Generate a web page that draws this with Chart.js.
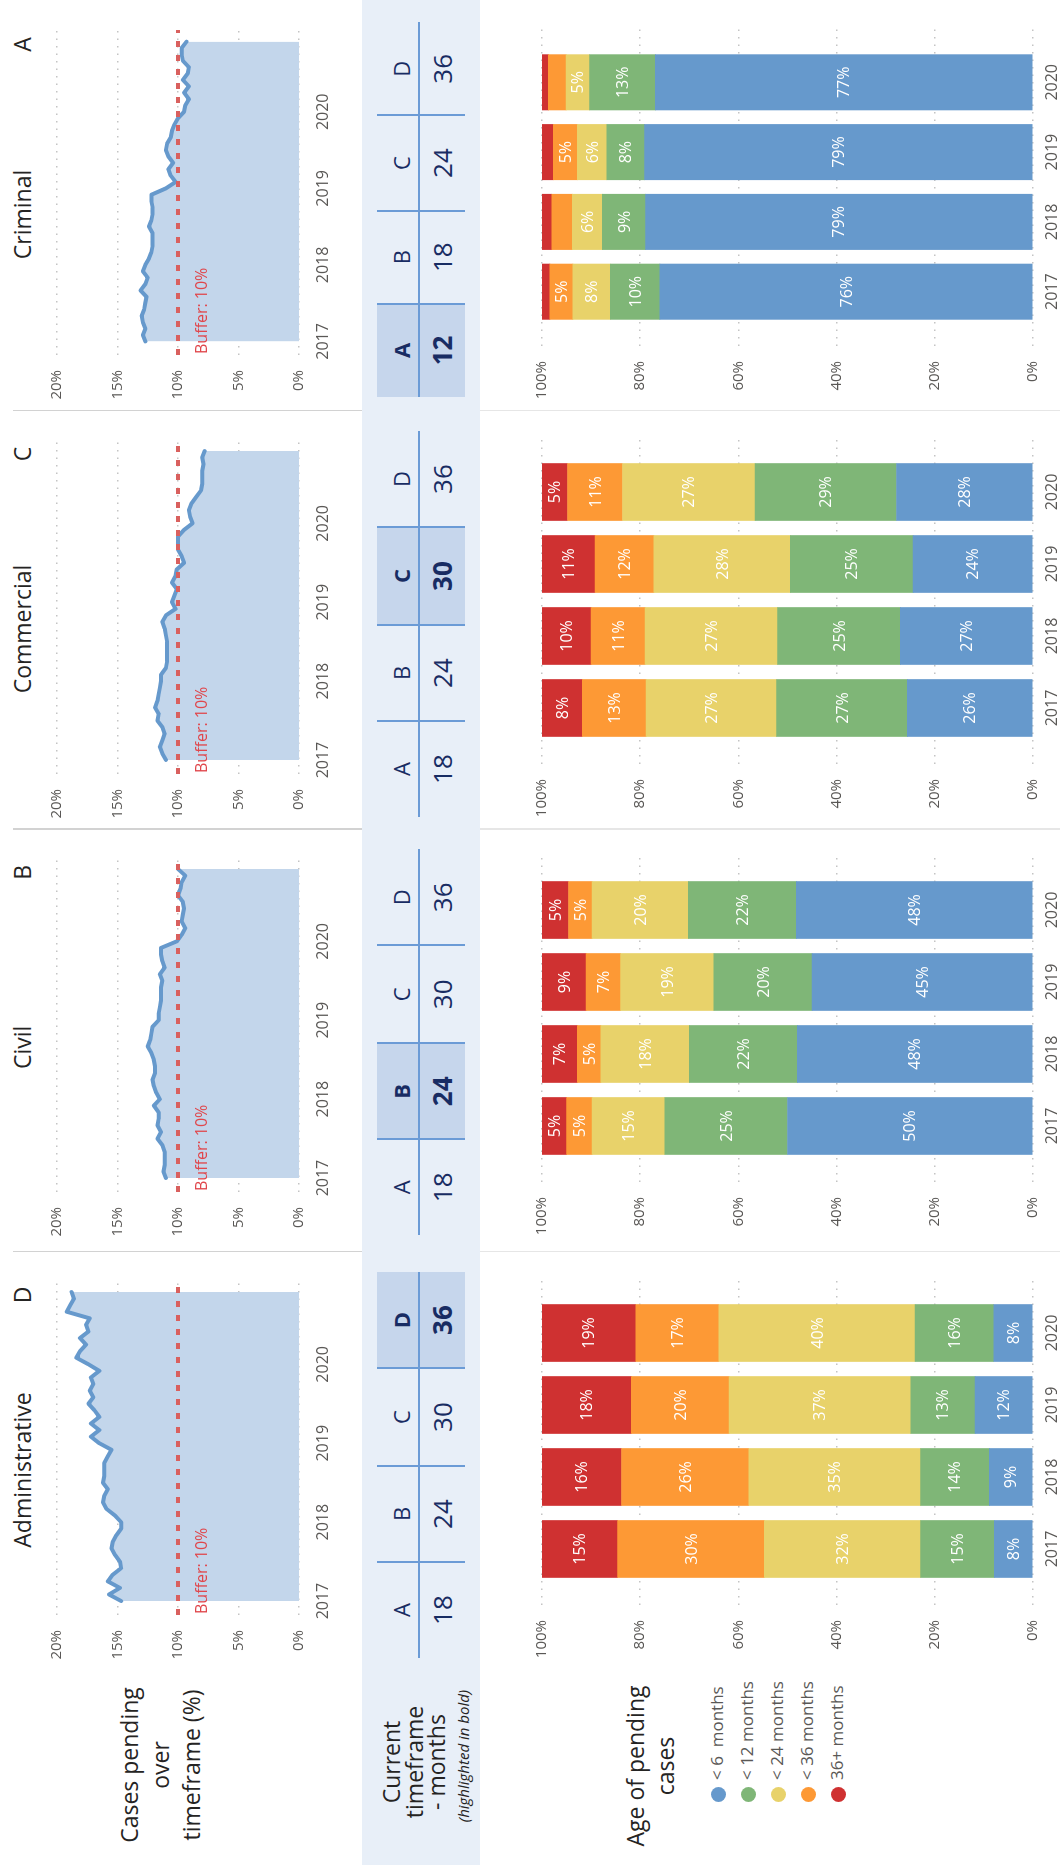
<!DOCTYPE html>
<html>
<head>
<meta charset="utf-8">
<title>Pending cases by court</title>
<script src="https://cdn.jsdelivr.net/npm/chart.js@4.4.1/dist/chart.umd.min.js"></script>
<style>
  html, body { margin: 0; padding: 0; background: #ffffff; }
  body { width: 1060px; height: 1870px; overflow: hidden; position: relative;
         font-family: "Open Sans", "Noto Sans", sans-serif; }
  /* the dashboard is laid out landscape and turned a quarter turn */
  #board { position: absolute; left: 0; top: 0; width: 1870px; height: 1060px;
           transform-origin: 0 0; transform: translate(0px, 1870px) rotate(-90deg);
           background: #ffffff; }
</style>
</head>
<body>
<div id="board"></div>
<script>
// ---------------- data ----------------
const courts = ['Administrative', 'Civil', 'Commercial', 'Criminal'];
const timeframeCodes = ['A', 'B', 'C', 'D'];
const monthsAdministrative = [18, 24, 30, 36];
const monthsCivil = [18, 24, 30, 36];
const monthsCommercial = [18, 24, 30, 36];
const monthsCriminal = [12, 18, 24, 36];
const currentTimeframe = ['D', 'B', 'C', 'A'];
const bufferPct = 10;

const yearTicks = [2017, 2018, 2019, 2020];
const years = ['2017', '2018', '2019', '2020'];

// share of cases pending over the timeframe, monthly Jan 2017 - Dec 2020 (%)
const pendingAdministrative = [14.7, 15.7, 14.8, 15.8, 15.4, 14.7, 14.8, 15.2, 15.5, 15.4,
  15.1, 14.7, 14.7, 15.2, 15.9, 16.2, 16.1, 15.8, 16.2, 16.1,
  16.1, 16.1, 15.8, 15.5, 16.5, 17.2, 16.5, 17.2, 16.5, 16.9,
  17.4, 17.0, 17.3, 17.0, 17.2, 16.5, 17.4, 18.4, 18.1, 17.6,
  18.1, 17.4, 17.6, 17.3, 19.2, 18.9, 18.6, 18.8];
const pendingCivil = [11.0, 11.2, 11.1, 11.1, 11.1, 11.3, 11.7, 11.4, 11.7, 11.6,
  11.6, 12.0, 11.5, 11.8, 12.0, 12.1, 11.9, 11.9, 12.0, 12.2,
  12.5, 12.3, 12.2, 12.1, 11.6, 11.6, 11.5, 11.4, 11.4, 11.4,
  11.3, 11.5, 11.1, 11.3, 11.4, 11.4, 10.1, 9.7, 9.4, 9.7,
  9.6, 9.5, 9.6, 10.0, 9.8, 9.7, 9.4, 10.0];
const pendingCommercial = [11.0, 11.3, 11.5, 11.3, 11.1, 11.3, 11.7, 11.6, 11.9, 11.7,
  11.6, 11.5, 11.4, 11.4, 11.0, 10.9, 10.9, 10.9, 10.9, 11.0,
  11.1, 11.3, 11.0, 10.2, 10.5, 10.3, 10.1, 10.5, 10.2, 10.1,
  9.5, 9.7, 10.0, 10.0, 10.0, 9.5, 8.8, 9.0, 9.1, 8.9,
  8.5, 8.1, 8.0, 8.0, 8.0, 7.9, 8.0, 7.8];
const pendingCriminal = [12.7, 12.9, 12.7, 12.9, 13.0, 12.8, 12.7, 12.6, 13.1, 12.7,
  12.5, 12.9, 12.7, 12.4, 12.2, 12.1, 12.1, 12.1, 12.4, 12.2,
  12.1, 12.1, 12.2, 12.2, 11.0, 10.2, 10.6, 10.8, 10.4, 10.8,
  11.0, 10.9, 10.6, 10.5, 10.3, 10.0, 9.5, 9.4, 9.1, 9.5,
  9.1, 9.6, 9.2, 9.1, 9.6, 9.7, 9.7, 9.3];

// age of pending cases by year (%), rows: <6, <12, <24, <36, 36+ months
const ageBands = ['< 6  months', '< 12 months', '< 24 months', '< 36 months', '36+ months'];
const ageColors = ['#6699cc', '#7fb677', '#e8d26a', '#fd9935', '#cf3131'];
const ageAdministrative = [
  [7.9, 8.9, 11.8, 8.0],
  [15.0, 14.0, 13.1, 16.0],
  [31.8, 35.0, 37.0, 40.0],
  [29.9, 25.9, 19.9, 16.9],
  [15.4, 16.2, 18.2, 19.1]];
const ageCivil = [
  [50.0, 48.0, 45.0, 48.2],
  [25.0, 22.0, 20.0, 22.0],
  [14.8, 18.0, 19.0, 19.6],
  [5.2, 4.8, 7.0, 4.8],
  [5.0, 7.2, 9.0, 5.4]];
const ageCommercial = [
  [25.6, 27.0, 24.4, 27.8],
  [26.6, 25.0, 25.0, 28.8],
  [26.6, 27.0, 27.8, 27.0],
  [13.0, 11.0, 12.0, 11.2],
  [8.2, 10.0, 10.8, 5.2]];
const ageCriminal = [
  [76.0, 78.9, 79.1, 76.9],
  [10.1, 8.8, 7.7, 13.4],
  [7.6, 6.1, 6.0, 4.8],
  [4.7, 4.2, 4.9, 3.6],
  [1.6, 2.0, 2.3, 1.3]];

const pendingByCourt = [pendingAdministrative, pendingCivil, pendingCommercial, pendingCriminal];
const monthsByCourt = [monthsAdministrative, monthsCivil, monthsCommercial, monthsCriminal];
const ageByCourt = [ageAdministrative, ageCivil, ageCommercial, ageCriminal];

// ---------------- layout helpers ----------------
const FONT = '"Open Sans", "Noto Sans", sans-serif';
Chart.defaults.font.family = FONT;
const board = document.getElementById('board');

// each court occupies one column; positions are given for the first column
const anchor = [269, 691.7, 1110, 1528.3];
const sx = [1, 1, 1, 0.971];
function px(p, x) { return anchor[p] + (x - 269) * sx[p]; }

function add(tag, css, text) {
  const el = document.createElement(tag);
  el.style.cssText = 'position:absolute;' + css;
  if (text !== undefined) el.textContent = text;
  board.appendChild(el);
  return el;
}
function makeCanvas(left, top, w, h) {
  const c = document.createElement('canvas');
  c.width = w; c.height = h;
  c.style.cssText = `position:absolute;left:${left}px;top:${top}px;width:${w}px;height:${h}px;`;
  board.appendChild(c);
  return c;
}

// ---------------- plugins ----------------
const bufferLabelPlugin = {
  id: 'bufferLabel',
  afterDatasetsDraw(chart) {
    const { ctx, chartArea, scales } = chart;
    ctx.save();
    ctx.font = `16px ${FONT}`;
    ctx.fillStyle = '#e0474c';
    ctx.textBaseline = 'alphabetic';
    ctx.fillText(`Buffer: ${bufferPct}%`, chartArea.left + 1, scales.y.getPixelForValue(bufferPct) + 29);
    ctx.restore();
  }
};

const segmentLabelPlugin = {
  id: 'segmentLabels',
  afterDatasetsDraw(chart) {
    const ctx = chart.ctx;
    ctx.save();
    ctx.font = `16px ${FONT}`;
    ctx.fillStyle = '#ffffff';
    ctx.textAlign = 'center';
    ctx.textBaseline = 'middle';
    chart.data.datasets.forEach((ds, k) => {
      chart.getDatasetMeta(k).data.forEach((bar, i) => {
        const v = ds.data[i].y;
        if (v < 4.5) return;
        ctx.fillText(Math.round(v) + '%', bar.x, (bar.y + bar.base) / 2 + 1);
      });
    });
    ctx.restore();
  }
};

const dotted = { color: '#c4c4c4', lineWidth: 1.5, drawTicks: false };
const tickColor = '#5a5856';

// ---------------- line charts: cases pending over timeframe ----------------
const X_MIN = 2016.823, X_MAX = 2021.069;
function lineChart(p) {
  const values = pendingByCourt[p];
  const plotL = px(p, 255), plotR = px(p, 590);
  const plotT = 53, plotB = 299;
  const padL = 20, yW = 55, padR = 12, padT = 20, xH = 32, padB = 4;
  const w = Math.round(plotR - plotL);
  const canvas = makeCanvas(plotL - padL - yW, plotT - padT, w + padL + yW + padR, (plotB - plotT) + padT + xH + padB);
  new Chart(canvas, {
    type: 'line',
    data: {
      datasets: [
        { label: 'Buffer', data: [{ x: X_MIN, y: bufferPct }, { x: X_MAX, y: bufferPct }],
          borderColor: '#d9605e', borderWidth: 4, borderDash: [6, 8], pointRadius: 0, fill: false },
        { label: 'Cases pending over timeframe', data: values.map((v, i) => ({ x: 2017 + i / 12, y: v })),
          borderColor: '#6699cc', borderWidth: 4, backgroundColor: '#c3d6eb', fill: 'origin',
          pointRadius: 0, tension: 0, borderJoinStyle: 'round', borderCapStyle: 'round' }
      ]
    },
    options: {
      responsive: false, animation: false, devicePixelRatio: 1,
      layout: { padding: { left: padL, right: padR, top: padT, bottom: padB } },
      plugins: { legend: { display: false }, tooltip: { enabled: false } },
      scales: {
        x: {
          type: 'linear', min: X_MIN, max: X_MAX,
          afterBuildTicks: s => { s.ticks = yearTicks.map(v => ({ value: v })); },
          afterFit: s => { s.height = xH; },
          grid: { display: false }, border: { display: false },
          ticks: { padding: 7, color: tickColor, font: { size: 16 }, maxRotation: 0, autoSkip: false,
                   callback: v => String(v) }
        },
        y: {
          min: 0, max: 20,
          afterFit: s => { s.width = yW; },
          grid: dotted, border: { display: false, dash: [1.5, 6] },
          ticks: { stepSize: 5, padding: 15, color: tickColor, font: { size: 15 }, callback: v => v + '%' }
        }
      }
    },
    plugins: [bufferLabelPlugin]
  });
}

// ---------------- bar charts: age of pending cases ----------------
function barChart(p) {
  const series = ageByCourt[p];
  const plotL = px(p, 265), plotR = px(p, 593);
  const plotT = 532, plotB = 1033;
  const padL = 10, yW = 60, padR = 10, padT = 14, xH = 26, padB = 4;
  const w = Math.round(plotR - plotL);
  const canvas = makeCanvas(plotL - padL - yW, plotT - padT, w + padL + yW + padR, (plotB - plotT) + padT + xH + padB);
  new Chart(canvas, {
    type: 'bar',
    data: {
      datasets: ageBands.map((name, k) => ({
        label: name,
        data: series[k].map((v, i) => ({ x: i, y: v })),
        backgroundColor: ageColors[k],
        borderWidth: 0,
        barThickness: 57 * sx[p]
      }))
    },
    options: {
      responsive: false, animation: false, devicePixelRatio: 1,
      layout: { padding: { left: padL, right: padR, top: padT, bottom: padB } },
      plugins: { legend: { display: false }, tooltip: { enabled: false } },
      scales: {
        x: {
          type: 'linear', stacked: true, min: -0.778, max: 3.778, offset: false,
          afterBuildTicks: s => { s.ticks = years.map((_, i) => ({ value: i })); },
          afterFit: s => { s.height = xH; },
          grid: { display: false }, border: { display: false },
          ticks: { padding: 2, color: tickColor, font: { size: 16 }, maxRotation: 0, autoSkip: false,
                   callback: v => years[v] }
        },
        y: {
          stacked: true, min: 0, max: 100,
          afterFit: s => { s.width = yW; },
          grid: dotted, border: { display: false, dash: [1.5, 6] },
          ticks: { stepSize: 20, padding: 15, color: tickColor, font: { size: 15 }, callback: v => v + '%' }
        }
      }
    },
    plugins: [segmentLabelPlugin]
  });
}

// ---------------- static frame ----------------
// column separators: stronger through the trend row, fainter through the bar row
for (let p = 0; p < 3; p++) {
  add('div', `left:${px(p, 618) - 0.5}px;top:13px;width:1.5px;height:349px;background:#d2d2d2;`);
  add('div', `left:${px(p, 618) - 0.5}px;top:480px;width:1.5px;height:580px;background:#e6e6e6;`);
}
// timeframe band
add('div', 'left:5px;top:362px;width:1865px;height:118px;background:#e8eff8;');

// row labels
add('div', `left:5px;top:114px;width:200px;font-size:23px;line-height:31px;text-align:center;color:#252423;white-space:pre;`,
    'Cases pending\nover\ntimeframe (%)');
add('div', `left:8px;top:380px;width:200px;font-size:23px;line-height:22.5px;text-align:center;color:#252423;white-space:pre;`,
    'Current\ntimeframe\n- months');
add('div', `left:14px;top:454px;width:200px;font-size:15px;line-height:18px;font-style:italic;text-align:center;color:#252423;white-space:pre;`,
    '(highlighted in bold)');
add('div', `left:4px;top:620px;width:200px;font-size:23px;line-height:30px;text-align:center;color:#252423;white-space:pre;`,
    'Age of pending\ncases');

// legend
ageBands.forEach((name, k) => {
  const cy = 718 + 30 * k;
  add('div', `left:${75 - 7.5}px;top:${cy - 7.5}px;width:15px;height:15px;border-radius:50%;background:${ageColors[k]};`);
  add('div', `left:90px;top:${cy - 13}px;font-size:17px;line-height:24px;color:${tickColor};white-space:pre;`, name);
});

// per-court columns
courts.forEach((court, p) => {
  add('div', `left:${px(p, 400) - 150}px;top:9px;width:300px;font-size:23px;line-height:27.6px;text-align:center;color:#252423;`, court);
  add('div', `left:${px(p, 575) - 20}px;top:9px;width:40px;font-size:23px;line-height:27.6px;text-align:center;color:#252423;`, currentTimeframe[p]);

  // timeframe table
  const cols = [212, 308, 404, 502, 598].map(x => px(p, x));
  const hi = timeframeCodes.indexOf(currentTimeframe[p]);
  add('div', `left:${cols[hi]}px;top:377px;width:${cols[hi + 1] - cols[hi]}px;height:88px;background:#c6d6ec;`);
  add('div', `left:${cols[0]}px;top:418px;width:${cols[4] - cols[0]}px;height:2px;background:#6b9bd6;`);
  for (let k = 1; k < 4; k++) {
    add('div', `left:${cols[k] - 1}px;top:377px;width:2px;height:88px;background:#6b9bd6;`);
  }
  timeframeCodes.forEach((code, k) => {
    const bold = k === hi ? 'font-weight:700;' : '';
    const cw = cols[k + 1] - cols[k];
    add('div', `left:${cols[k]}px;top:388px;width:${cw}px;font-size:22px;line-height:26.4px;text-align:center;color:#182c63;${bold}`, code);
    add('div', `left:${cols[k]}px;top:427px;width:${cw}px;font-size:26px;line-height:31.2px;text-align:center;color:#182c63;${bold}`, String(monthsByCourt[p][k]));
  });

  lineChart(p);
  barChart(p);
});
</script>
</body>
</html>
